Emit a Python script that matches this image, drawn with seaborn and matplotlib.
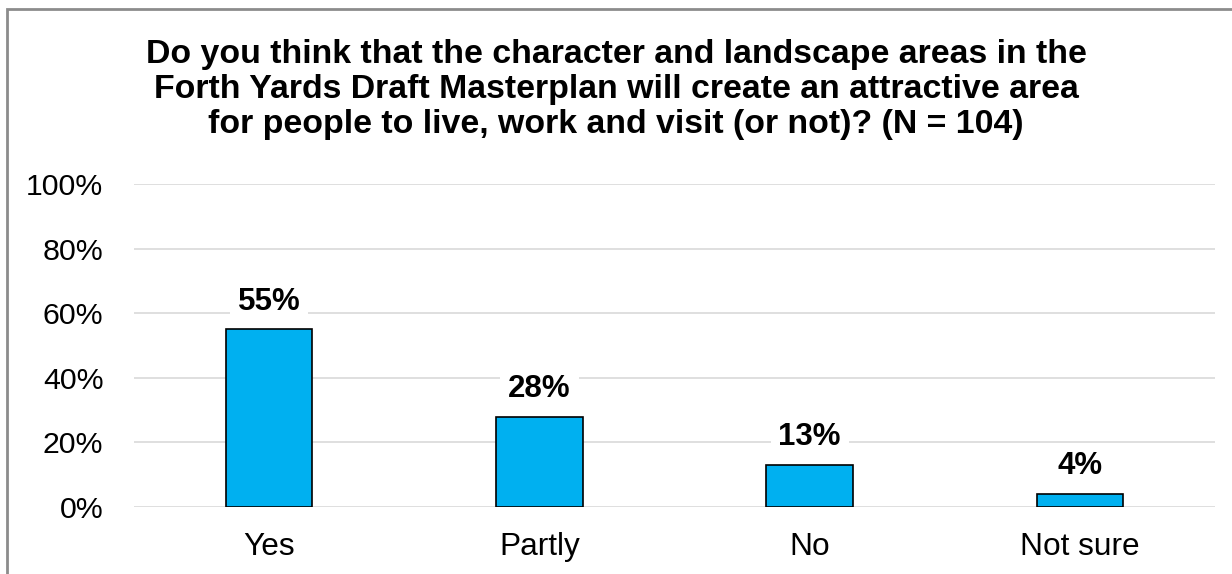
import matplotlib
matplotlib.use("Agg")
import matplotlib.pyplot as plt
from matplotlib.patches import Rectangle
import seaborn as sns
import pandas as pd

# Survey responses
categories = ["Yes", "Partly", "No", "Not sure"]
shares = [55, 28, 13, 4]
y_ticks = [0, 20, 40, 60, 80, 100]
y_tick_labels = ["0%", "20%", "40%", "60%", "80%", "100%"]
title = ("Do you think that the character and landscape areas in the\n"
         "Forth Yards Draft Masterplan will create an attractive area\n"
         "for people to live, work and visit (or not)? (N = 104)")

df = pd.DataFrame({"category": categories, "share": shares})

sns.set_theme(style="white")
plt.rcParams["font.family"] = ["Liberation Sans", "DejaVu Sans"]

fig = plt.figure(figsize=(12.32, 5.74), dpi=100)
ax = fig.add_axes([134 / 1232, 1 - 507 / 574, (1215 - 134) / 1232, (507 - 184) / 574])

sns.barplot(data=df, x="category", y="share", ax=ax, color="#00B0F0",
            width=0.32, edgecolor="black", linewidth=1.2, saturation=1, zorder=3)

ax.set_ylim(0, 100)
ax.set_xlim(-0.5, len(categories) - 0.5)
ax.set_yticks(y_ticks)
ax.set_yticklabels(y_tick_labels)
ax.yaxis.grid(True, color="#D9D9D9", linewidth=1.2, zorder=0)
ax.xaxis.grid(False)
ax.set_axisbelow(True)
for s in ax.spines.values():
    s.set_visible(False)
ax.set_xlabel("")
ax.set_ylabel("")
ax.tick_params(axis="y", labelsize=21.8, pad=22, length=0, colors="black")
ax.tick_params(axis="x", labelsize=22.8, pad=18, length=0, colors="black")

for i, v in enumerate(shares):
    ax.annotate(f"{v}%", xy=(i, v), xytext=(0, 20), textcoords="offset points",
                ha="center", va="center", fontsize=22.5, fontweight="bold",
                color="black", zorder=5,
                bbox=dict(boxstyle="square,pad=0.25", fc="white", ec="none"))

fig.text(0.5, 1 - 89.5 / 574, title, ha="center", va="center", fontsize=24.4,
         fontweight="bold", linespacing=1.18, color="black")

# Chart frame
fig.add_artist(Rectangle((7 / 1232, -0.1), 1.2, 1.1 - 9 / 574,
                         transform=fig.transFigure, fill=False,
                         edgecolor="#8C8C8C", linewidth=2.0))

fig.savefig("out.png", dpi=100, facecolor="white")
